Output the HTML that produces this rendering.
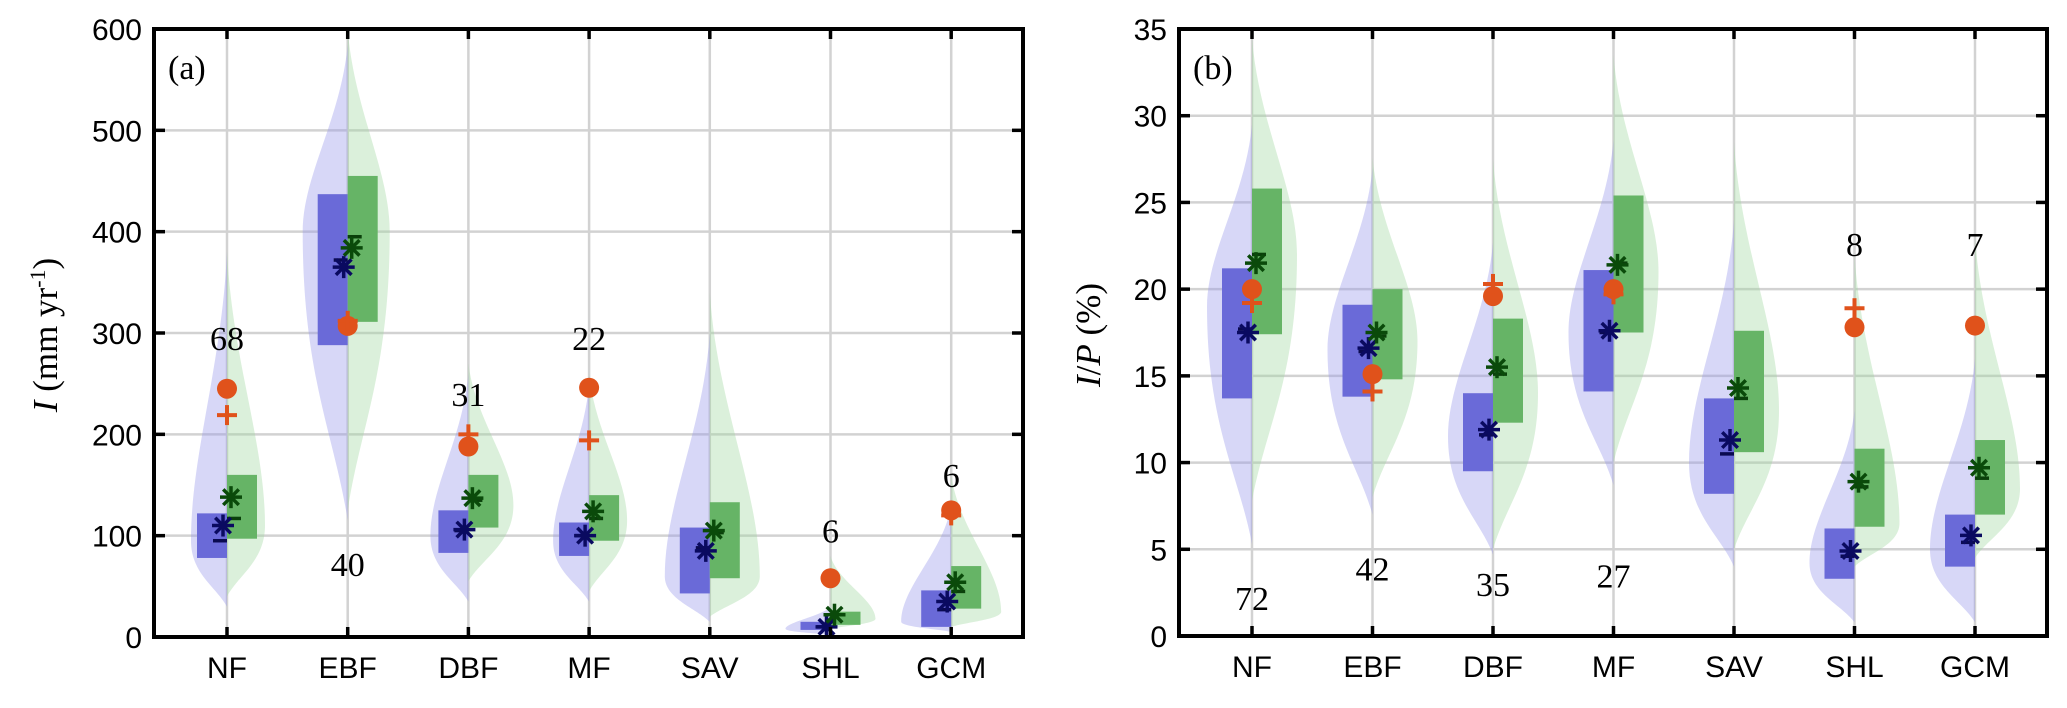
<!DOCTYPE html>
<html><head><meta charset="utf-8"><style>
body{margin:0;background:#fff}
svg{display:block}
.tk{font-family:"Liberation Sans",sans-serif;font-size:30px;fill:#000}
.sf{font-family:"Liberation Serif",serif;fill:#000}
</style></head><body>
<svg id="chart" width="2067" height="708" viewBox="0 0 2067 708" xmlns="http://www.w3.org/2000/svg"></svg>
<script>
const categories=["NF","EBF","DBF","MF","SAV","SHL","GCM"];
// Panel (a)
const aBlueQ1=[78,288,83,80,43,7,10], aBlueQ3=[122,437,125,113,108,15,46], aBlueMed=[95,372,105,100,88,10,27], aBlueMean=[110,365,106,100,85,10,35];
const aGreenQ1=[97,311,108,95,58,12,28], aGreenQ3=[160,455,160,140,133,25,70], aGreenMed=[117,395,135,117,103,22,45], aGreenMean=[138,384,137,124,105,22,54];
const aDot=[245,307,188,246,null,58,125], aPlus=[219,312,200,194,null,null,120];
const aCount=["68","40","31","22","","6","6"], aCountPos=[295,72,240,295,null,105,160];
const aBlueVMin=[30,115,35,35,15,2,5], aBlueVMax=[380,585,260,250,300,30,130], aBlueVPeak=[95,400,100,95,60,8,15], aBlueVW=[36,45,38,36,45,45,50];
const aGreenVMin=[40,125,55,45,20,8,10], aGreenVMax=[380,600,270,260,340,80,160], aGreenVPeak=[110,400,130,115,60,18,25], aGreenVW=[38,42,45,38,50,45,50];
const aTicks=[0,100,200,300,400,500,600];
// Panel (b)
const bBlueQ1=[13.7,13.8,9.5,14.1,8.2,3.3,4.0], bBlueQ3=[21.2,19.1,14.0,21.1,13.7,6.2,7.0], bBlueMed=[17.7,16.4,11.6,17.5,10.5,4.6,5.4], bBlueMean=[17.5,16.6,11.9,17.6,11.3,4.9,5.8];
const bGreenQ1=[17.4,14.8,12.3,17.5,10.6,6.3,7.0], bGreenQ3=[25.8,20.0,18.3,25.4,17.6,10.8,11.3], bGreenMed=[22.0,17.3,15.1,21.5,13.7,8.6,9.1], bGreenMean=[21.5,17.5,15.5,21.4,14.3,8.9,9.7];
const bDot=[20.0,15.1,19.6,20.0,null,17.8,17.9], bPlus=[19.2,14.1,20.3,19.7,null,18.9,null];
const bCount=["72","42","35","27","","8","7"], bCountPos=[2.2,3.9,3.0,3.5,null,22.6,22.6];
const bBlueVMin=[5.3,7.0,4.7,8.7,4.0,0.8,0.8], bBlueVMax=[29.5,27.0,22.7,28.6,24.0,13.0,16.0], bBlueVPeak=[19,16.5,11.5,17.5,10,4.2,5], bBlueVW=[45,45,45,45,45,45,45];
const bGreenVMin=[7.8,8.0,5.0,10.0,5.0,4.0,4.5], bGreenVMax=[34.5,27.6,27.5,33.5,28.5,22.0,23.0], bGreenVPeak=[22,17,14,21,13,6.5,8.5], bGreenVW=[45,45,45,45,45,45,45];
const bTicks=[0,5,10,15,20,25,30,35];

const NS="http://www.w3.org/2000/svg", svg=document.getElementById("chart");
function el(t,a,p){const e=document.createElementNS(NS,t);for(const k in a)e.setAttribute(k,a[k]);(p||svg).appendChild(e);return e;}

function panel(o){
  const g=el("g",{});
  
  
  const X=i=>o.x0+o.off+i*o.step, Y=v=>o.y1-(v-o.ymin)/(o.ymax-o.ymin)*(o.y1-o.y0);
  o.ticks.forEach(t=>{if(t>o.ymin&&t<o.ymax){const l=el("line",{x1:o.x0,x2:o.x1,y1:Y(t),y2:Y(t),stroke:"#d2d2d2","stroke-width":2.5},g);}});
  categories.forEach((c,i)=>{const l=el("line",{x1:X(i),x2:X(i),y1:o.y0,y2:o.y1,stroke:"#d2d2d2","stroke-width":2.5},g);});
  const d=o.d;
  categories.forEach((c,i)=>{
    const cx=X(i);
    [[d.bVMin,d.bVMax,d.bVPeak,d.bVW,-1,"rgba(150,150,235,0.38)"],[d.gVMin,d.gVMax,d.gVPeak,d.gVW,1,"rgba(160,215,160,0.38)"]].forEach(([mn,mx,pk,w,s,col])=>{
      const a=Y(mn[i]),b=Y(mx[i]),p=Y(pk[i]),W=w[i]*s;
      const path=`M${cx},${a} C${cx+W*0.3},${a-(a-p)*0.3} ${cx+W},${p+(a-p)*0.5} ${cx+W},${p} C${cx+W},${p-(p-b)*0.3} ${cx+W*0.15},${b+(p-b)*0.4} ${cx},${b} Z`;
      const v=el("path",{d:path,fill:col},g);
      
      
    });
    const bb=el("rect",{x:cx-30,y:Y(d.bQ3[i]),width:30,height:Y(d.bQ1[i])-Y(d.bQ3[i]),fill:"#6a6ad8"},g);
    
    const gb=el("rect",{x:cx,y:Y(d.gQ3[i]),width:30,height:Y(d.gQ1[i])-Y(d.gQ3[i]),fill:"#66b466"},g);
    
    const bm=el("line",{x1:cx-14,x2:cx,y1:Y(d.bMed[i]),y2:Y(d.bMed[i]),stroke:"#0a0a50","stroke-width":3.5},g);
    
    const gm=el("line",{x1:cx,x2:cx+14,y1:Y(d.gMed[i]),y2:Y(d.gMed[i]),stroke:"#0a400a","stroke-width":3.5},g);
    
    [[cx-4,Y(d.bMean[i]),"#0a0a60","mean-star-blue"],[cx+4,Y(d.gMean[i]),"#0a4a0a","mean-star-green"]].forEach(([sx,sy,col,nm])=>{
      const sg=el("g",{stroke:col,"stroke-width":3.5},g);
      
      for(let k=0;k<4;k++){const an=k*Math.PI/4;el("line",{x1:sx-11*Math.cos(an),y1:sy-11*Math.sin(an),x2:sx+11*Math.cos(an),y2:sy+11*Math.sin(an)},sg);}
    });
    if(d.dot[i]!=null){const c1=el("circle",{cx:cx,cy:Y(d.dot[i]),r:10,fill:"#e0521b"},g);}
    if(d.plus[i]!=null){const py=Y(d.plus[i]);const pg=el("g",{stroke:"#e0521b","stroke-width":4},g);el("line",{x1:cx-10,x2:cx+10,y1:py,y2:py},pg);el("line",{x1:cx,x2:cx,y1:py-10,y2:py+10},pg);}
    if(d.count[i]){const t=el("text",{x:cx,y:Y(d.cpos[i])+12,"text-anchor":"middle","font-size":34,class:"sf"},g);t.textContent=d.count[i];}
    el("line",{x1:cx,x2:cx,y1:o.y1,y2:o.y1-10,stroke:"#000","stroke-width":3.5},g);
    el("line",{x1:cx,x2:cx,y1:o.y0,y2:o.y0+10,stroke:"#000","stroke-width":3.5},g);
    const xl=el("text",{x:cx,y:o.y1+41,"text-anchor":"middle",class:"tk"},g);xl.textContent=c;
    
  });
  o.ticks.forEach(t=>{
    el("line",{x1:o.x0,x2:o.x0+11,y1:Y(t),y2:Y(t),stroke:"#000","stroke-width":3.5},g);
    el("line",{x1:o.x1,x2:o.x1-11,y1:Y(t),y2:Y(t),stroke:"#000","stroke-width":3.5},g);
    const yl=el("text",{x:o.x0-12,y:Y(t)+11,"text-anchor":"end",class:"tk"},g);yl.textContent=t;
    
  });
  const fr=el("rect",{x:o.x0,y:o.y0,width:o.x1-o.x0,height:o.y1-o.y0,fill:"none",stroke:"#000","stroke-width":4},g);
  
  const pl=el("text",{x:o.x0+14,y:o.y0+50,"font-size":34,class:"sf"},g);pl.textContent=o.label;
  
}
panel({name:"panel-a",x0:154,x1:1023,y0:29,y1:637,off:73,step:120.7,ymin:0,ymax:600,ticks:aTicks,label:"(a)",
  d:{bQ1:aBlueQ1,bQ3:aBlueQ3,bMed:aBlueMed,bMean:aBlueMean,gQ1:aGreenQ1,gQ3:aGreenQ3,gMed:aGreenMed,gMean:aGreenMean,dot:aDot,plus:aPlus,count:aCount,cpos:aCountPos,
  bVMin:aBlueVMin,bVMax:aBlueVMax,bVPeak:aBlueVPeak,bVW:aBlueVW,gVMin:aGreenVMin,gVMax:aGreenVMax,gVPeak:aGreenVPeak,gVW:aGreenVW}});
panel({name:"panel-b",x0:1179,x1:2047,y0:29,y1:636,off:73,step:120.5,ymin:0,ymax:35,ticks:bTicks,label:"(b)",
  d:{bQ1:bBlueQ1,bQ3:bBlueQ3,bMed:bBlueMed,bMean:bBlueMean,gQ1:bGreenQ1,gQ3:bGreenQ3,gMed:bGreenMed,gMean:bGreenMean,dot:bDot,plus:bPlus,count:bCount,cpos:bCountPos,
  bVMin:bBlueVMin,bVMax:bBlueVMax,bVPeak:bBlueVPeak,bVW:bBlueVW,gVMin:bGreenVMin,gVMax:bGreenVMax,gVPeak:bGreenVPeak,gVW:bGreenVW}});
</script>
<svg style="position:absolute;left:0;top:0" width="2067" height="708" xmlns="http://www.w3.org/2000/svg">
<text class="sf" font-size="35" transform="translate(57,335) rotate(-90)" text-anchor="middle"><tspan font-style="italic">I</tspan> (mm yr<tspan baseline-shift="super" font-size="22">-1</tspan>)</text>
<text class="sf" font-size="35" transform="translate(1100,335) rotate(-90)" text-anchor="middle"><tspan font-style="italic">I</tspan>/<tspan font-style="italic">P</tspan> (%)</text>
</svg>
</body></html>
